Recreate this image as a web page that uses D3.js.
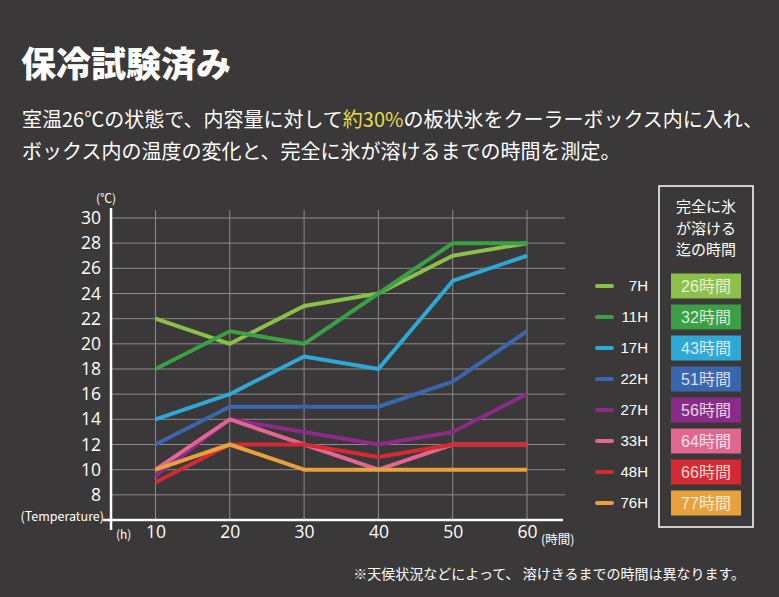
<!DOCTYPE html>
<html>
<head>
<meta charset="utf-8">
<script src="https://cdn.jsdelivr.net/npm/d3@7"></script>
<style>
  html, body { margin: 0; padding: 0; background: #3a3838; }
  svg { display: block; }
</style>
</head>
<body>
<div id="chart"></div>
<script>
// data
const hours = [10, 20, 30, 40, 50, 60];
const seriesNames = ["7H", "11H", "17H", "22H", "27H", "33H", "48H", "76H"];
const meltTimes = ["26時間", "32時間", "43時間", "51時間", "56時間", "64時間", "66時間", "77時間"];
const temps7H  = [22, 20, 23, 24, 27, 28];
const temps11H = [18, 21, 20, 24, 28, 28];
const temps17H = [14, 16, 19, 18, 25, 27];
const temps22H = [12, 15, 15, 15, 17, 21];
const temps27H = [9.5, 14, 13, 12, 13, 16];
const temps33H = [10, 14, 12, 10, 12, 12];
const temps48H = [9, 12, 12, 11, 12, 12];
const temps76H = [10, 12, 10, 10, 10, 10];
const yTicks = [8, 10, 12, 14, 16, 18, 20, 22, 24, 26, 28, 30];
const xTicks = [10, 20, 30, 40, 50, 60];

const allTemps = [temps7H, temps11H, temps17H, temps22H, temps27H, temps33H, temps48H, temps76H];
const colors = ["#8dbf4b", "#3b9f46", "#2fa8d5", "#3a66ae", "#8b2b88", "#e0678f", "#d42a32", "#e7a23d"];

const W = 779, H = 597;
const jp = "'Noto Sans CJK JP', 'Noto Sans', sans-serif";
const num = "'Open Sans', 'Noto Sans', sans-serif";

const svg = d3.select("#chart").append("svg")
    .attr("width", W)
    .attr("height", H);

svg.append("rect").attr("width", W).attr("height", H).attr("fill", "#3a3838");

// title + description
svg.append("text")
    .attr("x", 21).attr("y", 77)
    .attr("fill", "#fff")
    .style("font-family", jp).style("font-weight", 900).style("font-size", "35px")
    .text("保冷試験済み");

const line1 = svg.append("text")
    .attr("x", 22).attr("y", 127)
    .attr("fill", "#fff")
    .style("font-family", jp).style("font-size", "20px");
line1.append("tspan").text("室温26℃の状態で、内容量に対して");
line1.append("tspan").attr("fill", "#e6de4e").text("約30%");
line1.append("tspan").text("の板状氷をクーラーボックス内に入れ、");

svg.append("text")
    .attr("x", 22).attr("y", 159)
    .attr("fill", "#fff")
    .style("font-family", jp).style("font-size", "20px")
    .text("ボックス内の温度の変化と、完全に氷が溶けるまでの時間を測定。");

// scales
const x = d3.scaleLinear().domain([10, 60]).range([155.5, 527]);
const y = d3.scaleLinear().domain([6, 30]).range([520, 218]);

// grid
svg.append("g").selectAll("line")
    .data(yTicks)
    .enter().append("line")
    .attr("x1", 111).attr("x2", 565)
    .attr("y1", d => y(d)).attr("y2", d => y(d))
    .attr("stroke", "#8c8a8a").attr("stroke-width", 1);

svg.append("g").selectAll("line")
    .data(xTicks)
    .enter().append("line")
    .attr("x1", d => x(d)).attr("x2", d => x(d))
    .attr("y1", 210).attr("y2", 520)
    .attr("stroke", "#8c8a8a").attr("stroke-width", 1);

// axes
const yAxis = svg.append("g")
    .attr("transform", "translate(111,0)")
    .call(d3.axisLeft(y).tickValues(yTicks).tickSize(0).tickPadding(10));
const xAxis = svg.append("g")
    .attr("transform", "translate(0,520)")
    .call(d3.axisBottom(x).tickValues(xTicks).tickSize(0).tickPadding(6));

[yAxis, xAxis].forEach(a => {
    a.select(".domain").remove();
    a.selectAll("text")
        .attr("fill", "#fff")
        .style("font-family", num)
        .style("font-size", "17.5px");
});

svg.append("line")
    .attr("x1", 111).attr("x2", 111).attr("y1", 208).attr("y2", 530)
    .attr("stroke", "#fff").attr("stroke-width", 2.5);
svg.append("line")
    .attr("x1", 103).attr("x2", 563).attr("y1", 520).attr("y2", 520)
    .attr("stroke", "#fff").attr("stroke-width", 2.5);

// axis unit labels
const small = (tx, ty, t, anchor, size) => svg.append("text")
    .attr("x", tx).attr("y", ty)
    .attr("text-anchor", anchor || "start")
    .attr("fill", "#fff")
    .style("font-family", jp).style("font-size", (size || 12) + "px")
    .text(t);
small(96, 203, "(℃)", "start", 12);
small(104, 521, "(Temperature)", "end", 12.5);
small(116, 539, "(h)", "start", 12);
small(541, 544, "(時間)", "start", 12.5);

// lines
const line = d3.line()
    .x((d, i) => x(hours[i]))
    .y(d => y(d));

svg.append("g").selectAll("path")
    .data(allTemps)
    .enter().append("path")
    .attr("d", d => line(d))
    .attr("fill", "none")
    .attr("stroke", (d, i) => colors[i])
    .attr("stroke-width", 4)
    .attr("stroke-linejoin", "round");

// legend
const rowY = i => 286 + i * 31;

svg.append("rect")
    .attr("x", 659).attr("y", 186)
    .attr("width", 94).attr("height", 341)
    .attr("fill", "none").attr("stroke", "#fff").attr("stroke-width", 1.5);

["完全に氷", "が溶ける", "迄の時間"].forEach((t, i) => {
    svg.append("text")
        .attr("x", 706).attr("y", 212 + i * 21.5)
        .attr("text-anchor", "middle")
        .attr("fill", "#fff")
        .style("font-family", jp).style("font-size", "15px")
        .text(t);
});

const legend = svg.append("g").selectAll("g")
    .data(seriesNames)
    .enter().append("g")
    .attr("transform", (d, i) => `translate(0,${rowY(i)})`);

legend.append("line")
    .attr("x1", 597).attr("x2", 612)
    .attr("stroke", (d, i) => colors[i])
    .attr("stroke-width", 4).attr("stroke-linecap", "round");

legend.append("text")
    .attr("x", 648).attr("y", 0)
    .attr("dy", "0.35em")
    .attr("text-anchor", "end")
    .attr("fill", "#fff")
    .style("font-family", "'Liberation Sans', Arial, sans-serif")
    .style("font-size", "15px")
    .text(d => d);

legend.append("rect")
    .attr("x", 671).attr("y", -12.5)
    .attr("width", 70).attr("height", 25)
    .attr("fill", (d, i) => colors[i]);

legend.append("text")
    .attr("x", 706).attr("y", 0)
    .attr("dy", "0.36em")
    .attr("text-anchor", "middle")
    .attr("fill", (d, i) => d3.interpolateRgb(colors[i], "#fff")(0.8))
    .style("font-family", "'Liberation Sans', 'Noto Sans CJK JP', sans-serif")
    .style("font-size", "16px")
    .text((d, i) => meltTimes[i]);

// footnote
svg.append("text")
    .attr("x", 745).attr("y", 579)
    .attr("text-anchor", "end")
    .attr("fill", "#fff")
    .style("font-family", jp).style("font-size", "14px")
    .text("※天侯状況などによって、 溶けきるまでの時間は異なります。");
</script>
</body>
</html>
